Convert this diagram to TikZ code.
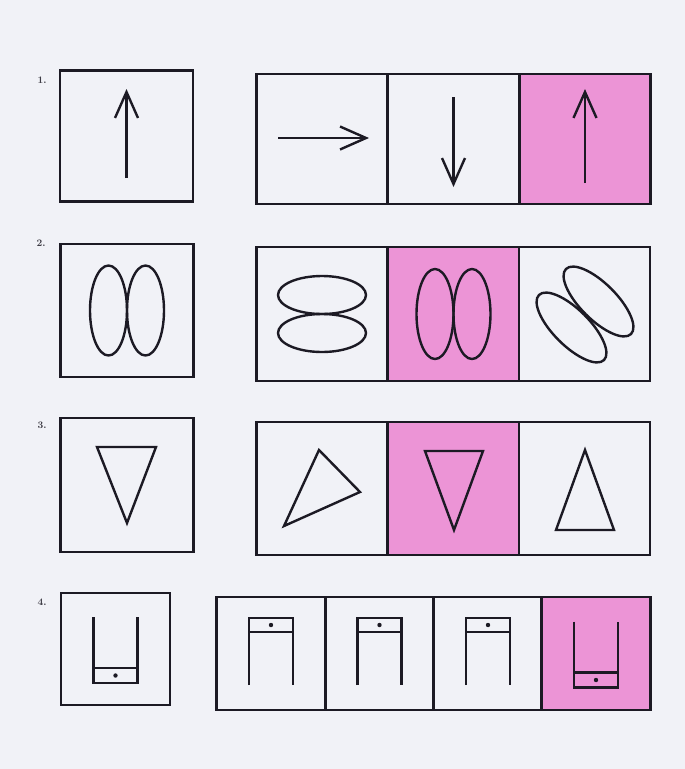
\documentclass[tikz,border=0pt]{standalone}
\usetikzlibrary{arrows.meta}

\begin{document}
\begin{tikzpicture}[x=1pt,y=-1pt,
    cell/.style={draw=ink, line width=2.8pt, inner sep=0pt},
    fig/.style={draw=ink, line width=2.4pt},
    arr/.style={-{Straight Barb[length=26pt,width=23pt]}},
    num/.style={font=\fontsize{10}{10}\selectfont\bfseries, text=ink!85, inner sep=0pt}]
  % Define paper and pencil colors
  \definecolor{ink}{RGB}{28,26,36}
  \definecolor{paper}{RGB}{241,242,247}
  \definecolor{crayon}{RGB}{236,148,214}

  % Page
  \fill[paper] (0,0) rectangle (685,769);

  % Task numbers
  \node[num] (n1) at (42,80) {1.};
  \node[num] (n2) at (41,243) {2.};
  \node[num] (n3) at (42,425) {3.};
  \node[num] (n4) at (42,602) {4.};

  % Row 1: arrows
  \node[cell, minimum width=133pt, minimum height=131pt] (q1) at (126.5,136) {};
  \foreach \j/\x/\f in {1/322/none,2/453.5/none,3/585/crayon} {
    \node[cell, fill=\f, minimum width=131pt, minimum height=130pt] (a1\j) at (\x,139) {};
  }
  \begin{scope}[shift={(q1.center)}]
    \draw[fig, arr] (0,42) -- (0,-47);
  \end{scope}
  \begin{scope}[shift={(a11.center)}]
    \draw[fig, arr] (-44,-1) -- (47,-1);
  \end{scope}
  \begin{scope}[shift={(a12.center)}]
    \draw[fig, arr] (0,-42) -- (0,48);
  \end{scope}
  \begin{scope}[shift={(a13.center)}]
    \draw[fig, arr] (0,44) -- (0,-50);
  \end{scope}

  % Row 2: pairs of ovals
  \node[cell, minimum width=133pt, minimum height=133pt] (q2) at (127,310.5) {};
  \foreach \j/\x/\f in {1/322/none,2/453.5/crayon,3/584.5/none} {
    \node[cell, fill=\f, minimum width=131pt, minimum height=134pt] (a2\j) at (\x,314) {};
  }
  \foreach \c in {q2,a22} {
    \begin{scope}[shift={(\c.center)}]
      \draw[fig] (-18.5,0) ellipse [x radius=18.5, y radius=45];
      \draw[fig] (18.5,0) ellipse [x radius=18.5, y radius=45];
    \end{scope}
  }
  \begin{scope}[shift={(a21.center)}]
    \draw[fig] (0,-19) ellipse [x radius=44, y radius=19];
    \draw[fig] (0,19) ellipse [x radius=44, y radius=19];
  \end{scope}
  \begin{scope}[shift={(a23.center)}]
    \draw[fig] (14,-12.5) ellipse [x radius=46, y radius=18, rotate=-45];
    \draw[fig] (-13,13.5) ellipse [x radius=46, y radius=18, rotate=-45];
  \end{scope}

  % Row 3: triangles
  \node[cell, minimum width=133pt, minimum height=134pt] (q3) at (127,485) {};
  \foreach \j/\x/\f in {1/322/none,2/453.5/crayon,3/584.5/none} {
    \node[cell, fill=\f, minimum width=131pt, minimum height=133pt] (a3\j) at (\x,488.5) {};
  }
  \begin{scope}[shift={(q3.center)}]
    \draw[fig] (-30,-38) -- (29,-38) -- (0,38) -- cycle;
  \end{scope}
  \begin{scope}[shift={(a31.center)}]
    \draw[fig] (-3,-38.5) -- (38,3.5) -- (-38,37.5) -- cycle;
  \end{scope}
  \begin{scope}[shift={(a32.center)}]
    \draw[fig] (-28.5,-37.5) -- (29.5,-37.5) -- (0.5,41.5) -- cycle;
  \end{scope}
  \begin{scope}[shift={(a33.center)}]
    \draw[fig] (0.5,-38.5) -- (29.5,41.5) -- (-28.5,41.5) -- cycle;
  \end{scope}

  % Row 4: frames with a dotted bar
  \node[cell, minimum width=109pt, minimum height=112pt] (q4) at (115.5,649) {};
  \foreach \j/\x/\f in {1/271/none,2/379.5/none,3/488/none,4/596/crayon} {
    \node[cell, fill=\f, minimum width=108.3pt, minimum height=113pt] (a4\j) at (\x,653.5) {};
  }
  \foreach \c in {q4,a44} {
    \begin{scope}[shift={(\c.center)}]
      \draw[fig] (-22,-32) -- (-22,34) -- (22,34) -- (22,-32);
      \draw[fig] (-22,19) -- (22,19);
      \fill[ink] (0,26.5) circle (2.2);
    \end{scope}
  }
  \foreach \c in {a41,a42,a43} {
    \begin{scope}[shift={(\c.center)}]
      \draw[fig] (-22,31.5) -- (-22,-35.5) -- (22,-35.5) -- (22,31.5);
      \draw[fig] (-22,-21.5) -- (22,-21.5);
      \fill[ink] (0,-28.5) circle (2.2);
    \end{scope}
  }
\end{tikzpicture}
\end{document}
